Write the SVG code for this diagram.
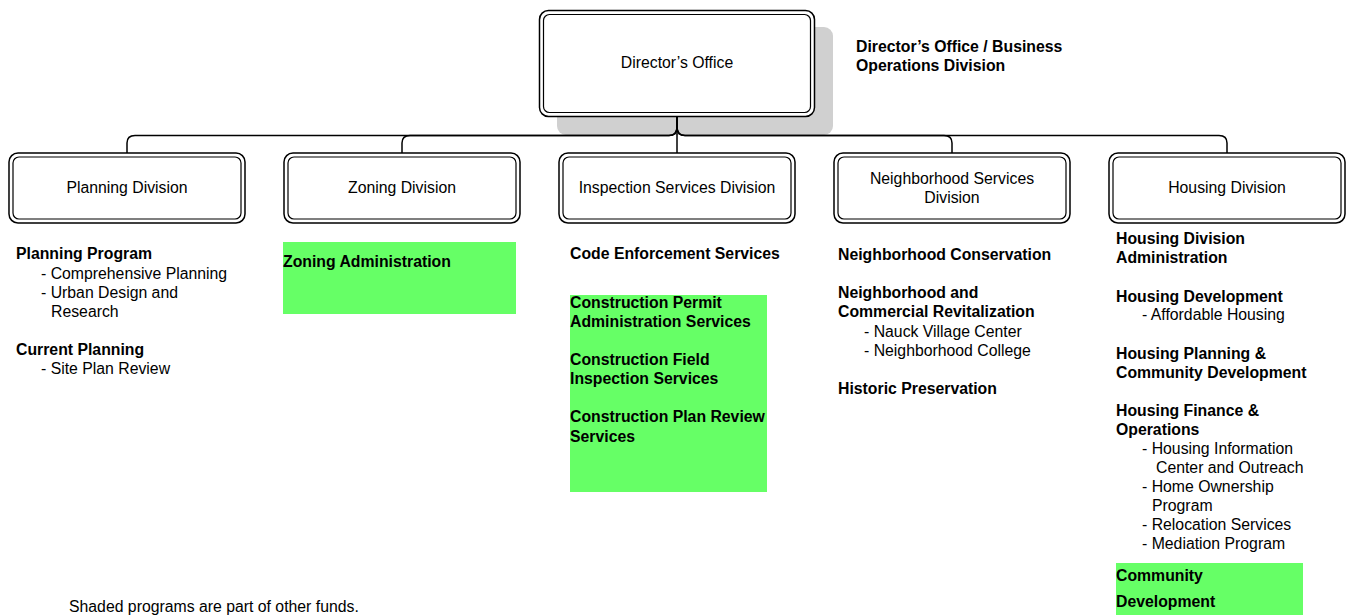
<svg xmlns="http://www.w3.org/2000/svg" width="1347" height="615" viewBox="0 0 1347 615">
<style>
text{font-family:"Liberation Sans",Arial,sans-serif;font-size:15.8px;fill:#000}
.b{font-weight:bold}
.c{text-anchor:middle}
.o{fill:#fff;stroke:#000;stroke-width:1.5}
.i{fill:none;stroke:#000;stroke-width:1.2}
.g{fill:#66ff66}
.ln{fill:none;stroke:#000;stroke-width:1.5}
</style>
<rect width="1347" height="615" fill="#fff"/>
<g id="director">
<rect x="557" y="27" width="276" height="108" rx="9" fill="#d0d0d0"/>
<rect class="o" x="539.5" y="10.5" width="275" height="106" rx="9"/>
<rect class="i" x="543.5" y="14.5" width="267" height="98" rx="6"/>
<text class="c" x="677" y="68">Director’s Office</text>
</g>
<g id="connectors">
<path class="ln" d="M677 117 V127 Q677 135.5 669 135.5 H135 Q127 135.5 127 143 V153"/>
<path class="ln" d="M677 117 V127 Q677 135.5 669 135.5 H410 Q402 135.5 402 143 V153"/>
<path class="ln" d="M677 117 V153"/>
<path class="ln" d="M677 117 V127 Q677 135.5 685 135.5 H944 Q952 135.5 952 143 V153"/>
<path class="ln" d="M677 117 V127 Q677 135.5 685 135.5 H1219 Q1227 135.5 1227 143 V153"/>
</g>
<g id="director-label">
<text class="b" x="856" y="52">Director’s Office / Business</text>
<text class="b" x="856" y="71">Operations Division</text>
</g>
<g id="planning">
<rect class="o" x="9" y="153" width="236" height="70" rx="9"/>
<rect class="i" x="13" y="157" width="228" height="62" rx="6"/>
<text class="c" x="127" y="193">Planning Division</text>
<text class="b" x="16" y="259">Planning Program</text>
<text x="41" y="279">- Comprehensive Planning</text>
<text x="41" y="298">- Urban Design and</text>
<text x="51" y="317">Research</text>
<text class="b" x="16" y="355">Current Planning</text>
<text x="41" y="374">- Site Plan Review</text>
</g>
<g id="zoning">
<rect class="o" x="284" y="153" width="236" height="70" rx="9"/>
<rect class="i" x="288" y="157" width="228" height="62" rx="6"/>
<text class="c" x="402" y="193">Zoning Division</text>
<rect class="g" x="283" y="242" width="233" height="72"/>
<text class="b" x="283" y="267">Zoning Administration</text>
</g>
<g id="inspection">
<rect class="o" x="559" y="153" width="236" height="70" rx="9"/>
<rect class="i" x="563" y="157" width="228" height="62" rx="6"/>
<text class="c" x="677" y="193">Inspection Services Division</text>
<text class="b" x="570" y="259">Code Enforcement Services</text>
<rect class="g" x="570" y="295" width="197" height="197"/>
<text class="b" x="570" y="308">Construction Permit</text>
<text class="b" x="570" y="327">Administration Services</text>
<text class="b" x="570" y="365">Construction Field</text>
<text class="b" x="570" y="384">Inspection Services</text>
<text class="b" x="570" y="422">Construction Plan Review</text>
<text class="b" x="570" y="442">Services</text>
</g>
<g id="neighborhood">
<rect class="o" x="834" y="153" width="236" height="70" rx="9"/>
<rect class="i" x="838" y="157" width="228" height="62" rx="6"/>
<text class="c" x="952" y="184">Neighborhood Services</text>
<text class="c" x="952" y="203">Division</text>
<text class="b" x="838" y="260">Neighborhood Conservation</text>
<text class="b" x="838" y="298">Neighborhood and</text>
<text class="b" x="838" y="317">Commercial Revitalization</text>
<text x="864" y="337">- Nauck Village Center</text>
<text x="864" y="356">- Neighborhood College</text>
<text class="b" x="838" y="394">Historic Preservation</text>
</g>
<g id="housing">
<rect class="o" x="1109" y="153" width="236" height="70" rx="9"/>
<rect class="i" x="1113" y="157" width="228" height="62" rx="6"/>
<text class="c" x="1227" y="193">Housing Division</text>
<text class="b" x="1116" y="244">Housing Division</text>
<text class="b" x="1116" y="263">Administration</text>
<text class="b" x="1116" y="302">Housing Development</text>
<text x="1142" y="320">- Affordable Housing</text>
<text class="b" x="1116" y="359">Housing Planning &amp;</text>
<text class="b" x="1116" y="378">Community Development</text>
<text class="b" x="1116" y="416">Housing Finance &amp;</text>
<text class="b" x="1116" y="435">Operations</text>
<text x="1142" y="454">- Housing Information</text>
<text x="1156" y="473">Center and Outreach</text>
<text x="1142" y="492">- Home Ownership</text>
<text x="1152" y="511">Program</text>
<text x="1142" y="530">- Relocation Services</text>
<text x="1142" y="549">- Mediation Program</text>
<rect class="g" x="1116" y="563" width="187" height="52"/>
<text class="b" x="1116" y="581">Community</text>
<text class="b" x="1116" y="607">Development</text>
</g>
<g id="note">
<text x="69" y="612">Shaded programs are part of other funds.</text>
</g>
</svg>
